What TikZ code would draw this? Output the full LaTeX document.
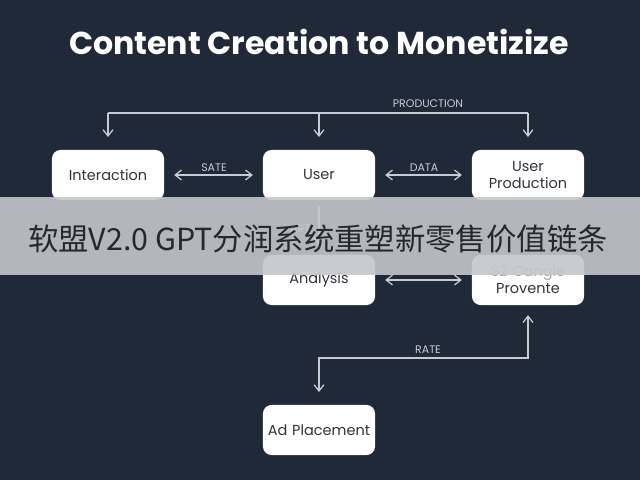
\documentclass[tikz,border=0pt]{standalone}
\usepackage{fontspec}
\setmainfont{Poppins}
\newfontfamily\cjkfont{Noto Sans CJK SC}
\usetikzlibrary{arrows.meta,positioning,calc}
\definecolor{BgNavy}{RGB}{32,41,56}
\definecolor{BoxText}{RGB}{48,52,60}
\definecolor{LineGray}{RGB}{200,204,210}
\definecolor{BannerGray}{RGB}{196,198,202}
\definecolor{BannerText}{RGB}{40,40,42}

\begin{document}
\begin{tikzpicture}[x=0.025cm,y=-0.025cm,
  card/.style={fill=white,rounded corners=6pt,
               minimum width=2.8cm,minimum height=1.25cm,
               text width=2.6cm,align=center,font=\fontsize{10.3}{11.8}\selectfont,
               text=BoxText,inner sep=2pt},
  wire/.style={draw=LineGray,line width=0.9pt},
  arr/.style={wire,-{Straight Barb[length=4.5pt,width=7pt]},shorten >=7pt},
  biarr/.style={wire,{Straight Barb[length=4.5pt,width=7pt]}-{Straight Barb[length=4.5pt,width=7pt]},
                shorten >=7pt,shorten <=7pt},
  tag/.style={font=\fontsize{7.8}{8}\selectfont,text=LineGray,inner sep=1pt},
]
\fill[BgNavy] (0,0) rectangle (640,480);
\node[font=\fontsize{22.5}{26}\selectfont\bfseries,text=white] (title) at (319,42)
  {Content Creation to Monetizize};
% top row
\node[card] (inter) at (108,175) {Interaction};
\node[card] (user) at (319,175) {User};
\node[card] (uprod) at (528,175) {User\\Production};
% middle row
\node[card] (analysis) at (319,280) {Analysis};
\node[card] (prov) at (528,280) {\textcolor{gray!70}{S2 Cangle}\\Provente};
% bottom
\node[card] (adplace) at (319,430) {Ad Placement};
% production bus
\coordinate (bus) at (319,113);
\coordinate (rate) at (319,358);
\draw[wire] (inter.north |- bus) -- (uprod.north |- bus);
\draw[arr,shorten >=9pt] (inter.north |- bus) -- (inter.north);
\draw[arr,shorten >=9pt] (bus) -- (user.north);
\draw[arr,shorten >=9pt] (uprod.north |- bus) -- (uprod.north);
\node[tag] (lprod) at (428,104) {PRODUCTION};
% horizontal links
\draw[biarr] (inter) -- (user);
\node[tag] (lsate) at (214,168) {SATE};
\draw[biarr] (user) -- (uprod);
\node[tag] (ldata) at (424,168) {DATA};
\draw[arr,shorten <=4pt] (user) -- (analysis);
\node[tag] (lart) at (300,229) {ART};
\draw[biarr] (analysis) -- (prov);
% rate loop
\draw[biarr,shorten >=9pt] (prov.south) |- (rate) -- (adplace.north);
\node[tag] (lrate) at (428,350) {RATE};
% banner
\fill[BannerGray,fill opacity=0.9] (0,197) rectangle (640,275);
\node[font=\cjkfont\fontsize{21.6}{25}\selectfont,text=BannerText] (banner) at (318,239)
  {软盟V2.0 GPT分润系统重塑新零售价值链条};
\end{tikzpicture}
\end{document}
